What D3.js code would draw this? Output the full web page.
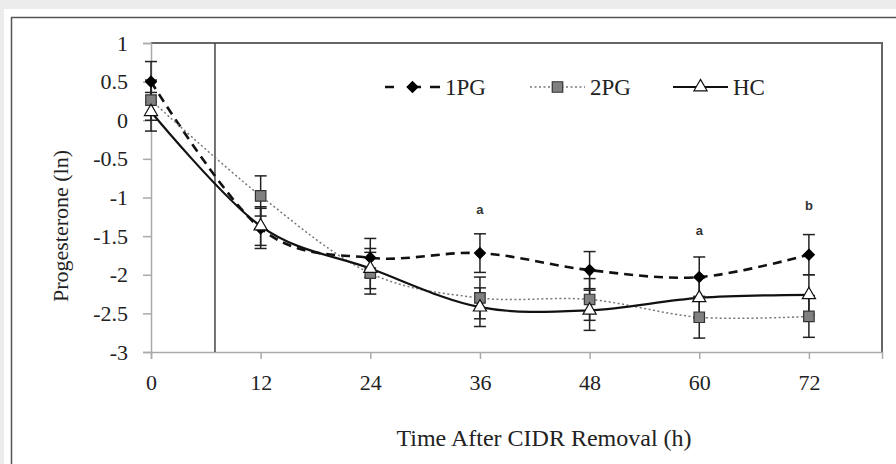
<!DOCTYPE html>
<html>
<head>
<meta charset="utf-8">
<script src="https://cdn.jsdelivr.net/npm/d3@7"></script>
<style>
  body { margin: 0; background: #ececec; }
  svg { display: block; }
</style>
</head>
<body>
<svg width="896" height="464"></svg>
<script>
var hours = [0, 12, 24, 36, 48, 60, 72];
var yTicks = [1, 0.5, 0, -0.5, -1, -1.5, -2, -2.5, -3];

var pg1 = [0.50, -1.40, -1.78, -1.72, -1.94, -2.03, -1.74];
var pg1Err = [0.26, 0.26, 0.25, 0.25, 0.24, 0.26, 0.26];
var pg2 = [0.26, -0.98, -1.98, -2.30, -2.32, -2.55, -2.54];
var pg2Err = [0.26, 0.26, 0.27, 0.27, 0.27, 0.27, 0.27];
var hc = [0.11, -1.37, -1.92, -2.42, -2.46, -2.30, -2.26];
var hcErr = [0.25, 0.25, 0.26, 0.25, 0.26, 0.26, 0.26];

var letters = [{h: 36, text: "a", v: -1.17}, {h: 60, text: "a", v: -1.44}, {h: 72, text: "b", v: -1.12}];
var cidrHour = 7;

var svg = d3.select("svg");

// outer white card with frame
svg.append("rect").attr("x", 4).attr("y", 9).attr("width", 892).attr("height", 455).attr("fill", "#fff");
svg.append("path").attr("d", "M11.5,464V17.5H896")
    .attr("fill", "none").attr("stroke", "#555").attr("stroke-width", 1.5);

var x = d3.scaleLinear().domain([0, 80]).range([151, 882]);
var y = d3.scaleLinear().domain([-3, 1]).range([352, 43]);

// plot border (top and right)
svg.append("path").attr("d", "M151," + y(1) + "H" + x(80) + "V" + y(-3))
    .attr("fill", "none").attr("stroke", "#666").attr("stroke-width", 2);

var serif = "'Liberation Serif', 'Times New Roman', serif";

var yAxis = svg.append("g")
    .attr("transform", "translate(" + x(0) + ",0)")
    .call(d3.axisLeft(y).tickValues(yTicks).tickSize(8).tickPadding(15).tickFormat(d3.format("")));
var xAxis = svg.append("g")
    .attr("transform", "translate(0," + y(-3) + ")")
    .call(d3.axisBottom(x).tickValues(hours).tickSize(7).tickPadding(15));
[xAxis, yAxis].forEach(function(a) {
  a.select(".domain").attr("stroke", "#aaa").attr("stroke-width", 1.5);
  a.selectAll(".tick line").attr("stroke", "#aaa").attr("stroke-width", 1.5);
  a.selectAll(".tick text").attr("fill", "#222").style("font-family", serif).style("font-size", "22px");
});
yAxis.selectAll(".tick text").text(function(d) { return d === 0 ? "0" : String(d); });

// CIDR line
svg.append("line")
    .attr("x1", x(cidrHour)).attr("x2", x(cidrHour))
    .attr("y1", y(1)).attr("y2", y(-3))
    .attr("stroke", "#444").attr("stroke-width", 1.5);

var series = [
  {name: "1PG", values: pg1, err: pg1Err, dash: "9,6", width: 2.6, symbol: d3.symbolDiamond2, size: 75, fill: "#000", stroke: "#000"},
  {name: "2PG", values: pg2, err: pg2Err, dash: "2,2.5", width: 1.5, symbol: d3.symbolSquare, size: 110, fill: "#808080", stroke: "#333"},
  {name: "HC", values: hc, err: hcErr, dash: null, width: 2.2, symbol: d3.symbolTriangle, size: 75, fill: "#fff", stroke: "#111"}
];

var line = d3.line()
    .x(function(d, i) { return x(hours[i]); })
    .y(function(d) { return y(d); })
    .curve(d3.curveCardinal.tension(0));

series.forEach(function(s) {
  svg.append("path")
      .datum(s.values)
      .attr("fill", "none")
      .attr("stroke", s.name === "2PG" ? "#777" : "#111")
      .attr("stroke-width", s.width)
      .attr("stroke-dasharray", s.dash)
      .attr("d", line);
});

// error bars
series.forEach(function(s) {
  var g = svg.append("g").attr("stroke", "#222").attr("stroke-width", 1.5);
  s.values.forEach(function(v, i) {
    var cx = x(hours[i]);
    var top = y(v + s.err[i]), bot = y(v - s.err[i]);
    g.append("line").attr("x1", cx).attr("x2", cx).attr("y1", top).attr("y2", bot);
    g.append("line").attr("x1", cx - 6).attr("x2", cx + 6).attr("y1", top).attr("y2", top);
    g.append("line").attr("x1", cx - 6).attr("x2", cx + 6).attr("y1", bot).attr("y2", bot);
  });
});

// markers
series.forEach(function(s) {
  svg.append("g").selectAll("path")
      .data(s.values)
      .enter()
      .append("path")
      .attr("transform", function(d, i) { return "translate(" + x(hours[i]) + "," + y(d) + ")"; })
      .attr("d", d3.symbol().type(s.symbol).size(s.size))
      .attr("fill", s.fill)
      .attr("stroke", s.stroke)
      .attr("stroke-width", 1.2);
});

// significance letters
svg.append("g").selectAll("text")
    .data(letters)
    .enter()
    .append("text")
    .attr("x", function(d) { return x(d.h); })
    .attr("y", function(d) { return y(d.v); })
    .attr("text-anchor", "middle")
    .attr("dominant-baseline", "middle")
    .style("font-family", "'Liberation Sans', Arial, sans-serif")
    .style("font-size", "13px")
    .style("font-weight", "bold")
    .attr("fill", "#333")
    .text(function(d) { return d.text; });

// legend
var legendX = [385, 530, 673];
var legend = svg.append("g");
series.forEach(function(s, i) {
  var lx = legendX[i], ly = 87;
  legend.append("line")
      .attr("x1", lx).attr("x2", lx + 55).attr("y1", ly).attr("y2", ly)
      .attr("stroke", s.name === "2PG" ? "#777" : "#111")
      .attr("stroke-width", s.width)
      .attr("stroke-dasharray", s.name === "1PG" ? "9,9,0,9,9" : s.dash);
  legend.append("path")
      .attr("transform", "translate(" + (lx + 27.5) + "," + ly + ")")
      .attr("d", d3.symbol().type(s.symbol).size(s.size))
      .attr("fill", s.fill).attr("stroke", s.stroke).attr("stroke-width", 1.2);
  legend.append("text")
      .attr("x", lx + 60).attr("y", ly)
      .attr("dominant-baseline", "central")
      .style("font-family", serif).style("font-size", "23px")
      .attr("fill", "#222")
      .text(s.name);
});

// axis titles
svg.append("text")
    .attr("transform", "translate(60,226) rotate(-90)")
    .attr("text-anchor", "middle")
    .attr("dominant-baseline", "central")
    .style("font-family", serif).style("font-size", "22px")
    .attr("fill", "#222")
    .text("Progesterone (ln)");
svg.append("text")
    .attr("x", 544).attr("y", 438)
    .attr("text-anchor", "middle")
    .attr("dominant-baseline", "central")
    .style("font-family", serif).style("font-size", "24px")
    .attr("fill", "#222")
    .text("Time After CIDR Removal (h)");
</script>
</body>
</html>
